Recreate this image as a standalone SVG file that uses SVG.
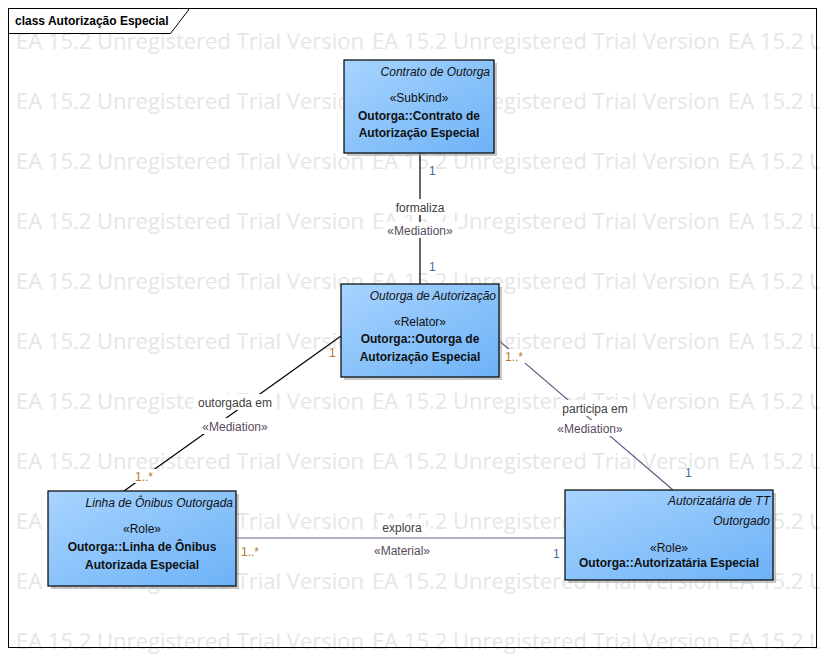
<svg xmlns="http://www.w3.org/2000/svg" xmlns:xlink="http://www.w3.org/1999/xlink" width="824" height="656" viewBox="0 0 824 656">
<style>
text{font-family:"Liberation Sans",Arial,sans-serif;font-size:12px}
.wm{font-family:"Open Sans","Liberation Sans",sans-serif;font-size:21px;fill:#e6e6e6}
.box{fill:url(#g);stroke:#000;stroke-width:1.2}
.sh{fill:#9a9a9a;opacity:.55}
.ti{font-style:italic;text-anchor:end;fill:#111}
.st{text-anchor:middle;fill:#111}
.nm{font-weight:bold;text-anchor:middle;fill:#111}
.ln{fill:none;stroke-width:1.2}
.lbl{text-anchor:middle;fill:#404040}
.ster{text-anchor:middle;fill:#5a4c5e}
.mb{fill:#3f6b9a}
.mo{fill:#b77a30}
.bg{fill:#fff}
</style>
<defs>
<linearGradient id="g" x1="0" y1="0" x2="1" y2="1">
<stop offset="0" stop-color="#a8d4ff"/>
<stop offset="1" stop-color="#6db2f6"/>
</linearGradient>
<text id="wm" class="wm" textLength="348" lengthAdjust="spacingAndGlyphs">EA 15.2 Unregistered Trial Version</text>
<clipPath id="c"><rect x="0" y="0" width="820" height="656"/></clipPath>
</defs>
<rect width="824" height="656" fill="#fff"/>
<g id="watermark" clip-path="url(#c)">
<use xlink:href="#wm" x="16" y="49"/><use xlink:href="#wm" x="372" y="49"/><use xlink:href="#wm" x="728" y="49"/>
<use xlink:href="#wm" x="16" y="109"/><use xlink:href="#wm" x="372" y="109"/><use xlink:href="#wm" x="728" y="109"/>
<use xlink:href="#wm" x="16" y="169"/><use xlink:href="#wm" x="372" y="169"/><use xlink:href="#wm" x="728" y="169"/>
<use xlink:href="#wm" x="16" y="229"/><use xlink:href="#wm" x="372" y="229"/><use xlink:href="#wm" x="728" y="229"/>
<use xlink:href="#wm" x="16" y="289"/><use xlink:href="#wm" x="372" y="289"/><use xlink:href="#wm" x="728" y="289"/>
<use xlink:href="#wm" x="16" y="349"/><use xlink:href="#wm" x="372" y="349"/><use xlink:href="#wm" x="728" y="349"/>
<use xlink:href="#wm" x="16" y="409"/><use xlink:href="#wm" x="372" y="409"/><use xlink:href="#wm" x="728" y="409"/>
<use xlink:href="#wm" x="16" y="469"/><use xlink:href="#wm" x="372" y="469"/><use xlink:href="#wm" x="728" y="469"/>
<use xlink:href="#wm" x="16" y="529"/><use xlink:href="#wm" x="372" y="529"/><use xlink:href="#wm" x="728" y="529"/>
<use xlink:href="#wm" x="16" y="589"/><use xlink:href="#wm" x="372" y="589"/><use xlink:href="#wm" x="728" y="589"/>
<use xlink:href="#wm" x="16" y="649"/><use xlink:href="#wm" x="372" y="649"/><use xlink:href="#wm" x="728" y="649"/>
</g>
<g id="frame">
<rect x="8.5" y="8.5" width="808" height="639" fill="none" stroke="#000"/>
<polyline points="8.5,33.5 170.5,33.5 188.5,10 188.5,8.5" fill="none" stroke="#000"/>
<text x="15" y="25" font-weight="bold" fill="#000">class Autorização Especial</text>
</g>
<g id="connectors">
<line class="ln" x1="420" y1="153" x2="420" y2="284" stroke="#000"/>
<line class="ln" x1="341" y1="336" x2="124" y2="491" stroke="#000"/>
<line class="ln" x1="497" y1="339" x2="673" y2="490" stroke="#5c6284"/>
<line class="ln" x1="236" y1="538" x2="565" y2="538" stroke="#5c6694"/>
<rect class="bg" x="392" y="199" width="56" height="16"/>
<rect class="bg" x="384" y="222" width="74" height="16"/>
<text class="lbl" x="420" y="212">formaliza</text>
<text class="ster" x="420" y="235">«Mediation»</text>
<text class="mb" x="429" y="175">1</text>
<text class="mb" x="429" y="271">1</text>
<rect class="bg" x="193" y="394" width="84" height="16"/>
<rect class="bg" x="197" y="418" width="76" height="16"/>
<text class="lbl" x="235" y="407">outorgada em</text>
<text class="ster" x="235" y="431">«Mediation»</text>
<text class="mo" x="329" y="357">1</text>
<rect class="bg" x="134" y="469" width="24" height="14"/>
<text class="mo" x="135" y="481">1..*</text>
<rect class="bg" x="557" y="400" width="76" height="16"/>
<rect class="bg" x="552" y="420" width="76" height="16"/>
<text class="lbl" x="595" y="413">participa em</text>
<text class="ster" x="590" y="433">«Mediation»</text>
<rect class="bg" x="504" y="349" width="24" height="14"/>
<text class="mo" x="505" y="361">1..*</text>
<text class="mb" x="685" y="477">1</text>
<rect class="bg" x="378" y="519" width="48" height="16"/>
<text class="lbl" x="402" y="532">explora</text>
<text class="ster" x="402" y="555">«Material»</text>
<text class="mo" x="241" y="556">1..*</text>
<text class="mb" x="553" y="558">1</text>
</g>
<g id="contrato">
<rect class="sh" x="347" y="63" width="150" height="93"/>
<rect class="box" x="344" y="60" width="150" height="93"/>
<text class="ti" x="490" y="76">Contrato de Outorga</text>
<text class="st" x="419" y="102">«SubKind»</text>
<text class="nm" x="419" y="120">Outorga::Contrato de</text>
<text class="nm" x="419" y="137">Autorização Especial</text>
</g>
<g id="outorga">
<rect class="sh" x="344" y="287" width="158" height="93"/>
<rect class="box" x="341" y="284" width="158" height="93"/>
<text class="ti" x="496" y="300">Outorga de Autorização</text>
<text class="st" x="420" y="326">«Relator»</text>
<text class="nm" x="420" y="343">Outorga::Outorga de</text>
<text class="nm" x="420" y="361">Autorização Especial</text>
</g>
<g id="linha">
<rect class="sh" x="51" y="494" width="188" height="95"/>
<rect class="box" x="48" y="491" width="188" height="95"/>
<text class="ti" x="233" y="507">Linha de Ônibus Outorgada</text>
<text class="st" x="142" y="533">«Role»</text>
<text class="nm" x="142" y="551">Outorga::Linha de Ônibus</text>
<text class="nm" x="142" y="569">Autorizada Especial</text>
</g>
<g id="autorizataria">
<rect class="sh" x="568" y="493" width="208" height="90"/>
<rect class="box" x="565" y="490" width="208" height="90"/>
<text class="ti" x="770" y="505">Autorizatária de TT</text>
<text class="ti" x="770" y="525">Outorgado</text>
<text class="st" x="669" y="552">«Role»</text>
<text class="nm" x="669" y="567">Outorga::Autorizatária Especial</text>
</g>
</svg>
